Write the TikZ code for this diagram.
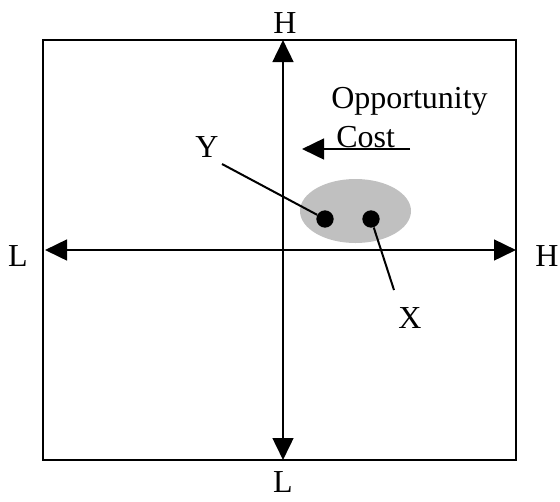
\documentclass[tikz,border=0pt]{standalone}
\usepackage{fontspec}
\setmainfont{Liberation Serif}
\usetikzlibrary{arrows.meta}
\begin{document}
\begin{tikzpicture}[x=0.75pt,y=-0.75pt,
  lbl/.style={font=\fontsize{24pt}{28pt}\selectfont, inner sep=0pt},
  axis/.style={line width=2pt, -{Triangle[length=16.5pt,width=15.5pt]}},
  frame/.style={line width=1.5pt},
  pt/.style={circle, fill=black, minimum size=13pt, inner sep=0pt},
  lead/.style={line width=1.5pt}]
\useasboundingbox (0,0) rectangle (560,501);
\draw[frame] (43,40) rectangle (516,460);
% axis coordinates
\coordinate (vc) at (283,250);
\coordinate (top) at (283,40);
\coordinate (bot) at (283,460);
\coordinate (lft) at (45,250);
\coordinate (rgt) at (516,250);
\draw[axis] (vc) -- (top);
\draw[axis] (vc) -- (bot);
\draw[axis] (vc) -- (lft);
\draw[axis] (vc) -- (rgt);
% axis labels
\node[lbl] (hT) at (285,23) {H};
\node[lbl] (lB) at (283,482) {L};
\node[lbl] (lL) at (18,256) {L};
\node[lbl] (hR) at (547,256) {H};
% opportunity cost
\node[lbl, anchor=base west] (opp) at (331,108) {Opportunity};
\node[lbl, anchor=base west] (cost) at (336,147) {Cost};
\coordinate (oc1) at (410,149);
\coordinate (oc2) at (302,149);
\draw[axis] (oc1) -- (oc2);
% ellipse and points
\fill[fill={rgb,255:red,192;green,192;blue,192}] (355.5,211) ellipse [x radius=55.5, y radius=32];
\node[pt] (dy) at (325,219) {};
\node[pt] (dx) at (371,219) {};
\node[lbl] (ylab) at (207,147) {Y};
\node[lbl] (xlab) at (410,318) {X};
\coordinate (ys) at (222,164);
\coordinate (xe) at (394,290);
\draw[lead] (ys) -- (dy);
\draw[lead] (dx) -- (xe);
\end{tikzpicture}
\end{document}
